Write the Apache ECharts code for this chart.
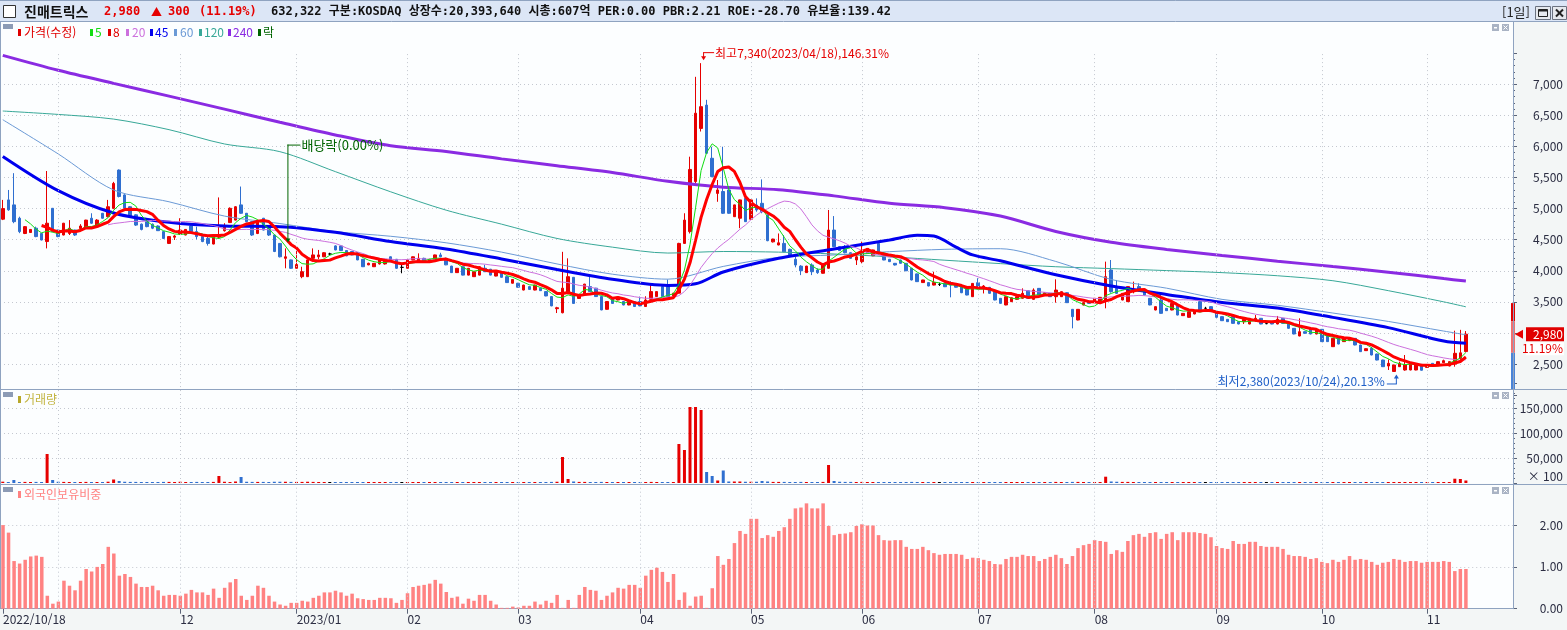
<!DOCTYPE html>
<html lang="ko">
<head>
<meta charset="utf-8">
<title>진매트릭스</title>
<script src="https://cdn.jsdelivr.net/npm/echarts@6.0.0/dist/echarts.min.js"></script>
<style>
  html, body { margin: 0; padding: 0; background: #f3f6f6; }
  #main { width: 1567px; height: 630px; }
</style>
</head>
<body>
<div id="main"></div>
<script>
// 거래일 (KRX 휴장일 제외)
var holidays = ['2022-12-30','2023-01-23','2023-01-24','2023-03-01','2023-05-01','2023-05-05',
  '2023-05-29','2023-06-06','2023-08-15','2023-09-28','2023-09-29','2023-10-02','2023-10-03','2023-10-09'];

// 시가 / 종가 / 저가 / 고가
var opens = [4830,5140,5060,4845,4600,4615,4685,4600,4470,5005, 4655,4575,4600,4655,4680,4685,4845,4710,4925,4870,
  5005,5620,5220,5030,4900,4750,4790,4750,4720,4630, 4440,4540,4590,4575,4720,4630,4550,4520,4430,4540,
  4645,4775,4815,5060,4925,4790,4600,4845,4710,4575, 4440,4200,4175,4040,3905,3905,4200,4225,4225,4270,
  4400,4400,4325,4310,4290,4185,4095,4065,4110,4110, 4225,4185,4055,4040,4175,4145,4200,4150,4175,4255,
  4200,4075,3970,4065,3930,3905,3930,4040,4025,3915, 3970,3905,3800,3800,3690,3745,3690,3720,3665,3585,
  3390,3325,3635,3895,3555,3625,3745,3720,3585,3380, 3555,3530,3505,3450,3505,3505,3425,3540,3585,3745,
  3745,3595,3640,4440,4630,5435,6290,6665,5810,5245, 5275,5300,4870,4845,5165,4830,5058,5085,4897,4465,
  4415,4440,4345,4185,4075,3970,4093,4012,3960,4040, 4655,4388,4360,4290,4173,4147,4280,4240,4440,4270,
  4185,4120,4173,4120,4040,3950,3810,3810,3770,3780, 3797,3810,3770,3743,3717,3583,3808,3717,3733,3664,
  3557,3450,3503,3540,3557,3680,3540,3717,3610,3637, 3583,3583,3647,3380,3208,3449,3503,3487,3487,3530,
  4013,3718,3530,3503,3664,3745,3701,3557,3369,3530, 3396,3369,3433,3278,3251,3305,3503,3396,3423,3353,
  3262,3219,3262,3181,3181,3144,3197,3235,3150,3165, 3144,3235,3154,3074,2951,3020,3074,2983,3058,2967,
  2779,2929,2860,2876,2913,2806,2715,2752,2661,2564, 2468,2380,2457,2404,2404,2404,2495,2446,2511,2484,
  2521,2468,2500,2590,2700];
var closes = [5000,4980,4790,4630,4710,4665,4550,4495,4765,4630, 4550,4765,4685,4575,4720,4815,4765,4815,4845,5030,
  5405,5195,5005,4870,4735,4665,4710,4685,4645,4520, 4550,4560,4655,4665,4630,4550,4470,4440,4575,4560,
  4700,5005,5030,4925,4790,4575,4790,4655,4575,4310, 4225,4225,4040,4100,3985,4175,4255,4255,4290,4270,
  4335,4325,4240,4255,4175,4065,4120,4120,4175,4185, 4145,4040,4055,4175,4225,4200,4145,4185,4255,4225,
  4095,3970,4040,3930,4040,3985,4065,3985,3930,3985, 3895,3810,3860,3735,3770,3700,3770,3680,3595,3435,
  3405,3720,3905,3475,3610,3785,3665,3585,3370,3505, 3475,3575,3450,3520,3425,3435,3530,3665,3665,3585,
  3585,3640,4440,4815,5630,6535,6640,5890,5515,5300, 4925,4925,5060,5140,4790,5140,4978,4950,4484,4510,
  4450,4305,4255,4093,4000,4075,3985,3970,4093,4655, 4388,4325,4290,4200,4225,4307,4360,4335,4270,4173,
  4147,4093,4120,4000,3852,3825,3852,3755,3812,3780, 3743,3770,3735,3647,3610,3797,3717,3755,3637,3530,
  3476,3583,3567,3583,3637,3557,3690,3610,3647,3583, 3690,3664,3487,3262,3380,3487,3476,3557,3573,3905,
  3664,3637,3637,3745,3691,3691,3610,3450,3423,3315, 3358,3476,3288,3315,3342,3358,3369,3396,3342,3251,
  3197,3181,3154,3144,3219,3235,3235,3144,3150,3144, 3219,3154,3074,2983,3020,2994,2983,3047,2860,2860,
  2913,2822,2913,2913,2806,2699,2747,2645,2564,2457, 2511,2484,2511,2484,2500,2484,2400,2468,2468,2538,
  2554,2538,2672,2680,2980];
var lows = [4815,4965,4765,4605,4590,4610,4540,4490,4360,4620, 4540,4570,4575,4560,4655,4680,4755,4700,4840,4860,
  4990,5180,4990,4860,4720,4650,4700,4670,4640,4510, 4430,4495,4575,4570,4620,4505,4460,4405,4425,4520,
  4630,4770,4810,4915,4780,4560,4590,4650,4560,4300, 4215,4040,4030,4035,3880,3900,4185,4185,4220,4250,
  4330,4320,4235,4250,4170,4060,4090,4060,4100,4100, 4140,4030,3960,4035,4170,4140,4140,4145,4170,4220,
  4090,3965,3965,3925,3925,3900,3925,3980,3925,3910, 3890,3805,3795,3730,3685,3695,3685,3675,3590,3430,
  3320,3315,3625,3470,3550,3620,3660,3580,3365,3375, 3470,3525,3445,3445,3420,3430,3420,3535,3580,3580,
  3580,3590,3635,4435,4600,5405,6240,5880,5505,5110, 4915,4915,4865,4685,4785,4820,4950,4925,4475,4455,
  4410,4300,4220,4055,3930,3965,3930,3950,3955,4035, 4380,4320,4280,4195,4093,4120,4275,4235,4265,4170,
  4140,4085,4115,3995,3845,3820,3805,3750,3765,3755, 3738,3573,3730,3640,3605,3578,3710,3635,3630,3525,
  3470,3445,3498,3530,3552,3550,3535,3605,3605,3578, 3487,3578,3482,3074,3203,3444,3471,3482,3482,3396,
  3648,3626,3525,3498,3637,3664,3605,3445,3364,3310, 3353,3364,3283,3273,3246,3300,3364,3380,3337,3246,
  3192,3176,3149,3139,3144,3139,3181,3139,3140,3139, 3139,3149,3069,2978,2946,2989,2978,2978,2855,2855,
  2774,2817,2855,2870,2801,2694,2710,2640,2559,2452, 2404,2380,2452,2393,2399,2399,2395,2441,2463,2479,
  2516,2463,2457,2560,2690];
var highs = [5140,5300,5570,4870,4720,4670,4710,4610,5605,5010, 4660,4770,4815,4660,4750,4820,4925,4830,4930,5140,
  5430,5630,5230,5040,4910,4760,4800,4760,4730,4640, 4555,4575,4845,4670,4730,4710,4555,4550,4580,5180,
  4765,5020,5040,5355,4930,4800,4800,4850,4720,4580, 4445,4360,4180,4360,4065,4180,4360,4335,4300,4290,
  4410,4410,4330,4315,4295,4190,4130,4125,4185,4190, 4230,4190,4120,4180,4230,4280,4210,4190,4260,4290,
  4210,4080,4045,4070,4045,3990,4070,4095,4030,3990, 3975,3910,3865,3805,3775,3750,3775,3725,3670,3590,
  3420,4305,4200,3900,3615,3790,3915,3725,3590,3510, 3560,3580,3510,3525,3510,3585,3590,3770,3670,3750,
  3860,3645,4450,4925,5835,7120,7340,6750,5995,5460, 5995,5310,5065,5145,5170,5150,5165,5470,4905,4515,
  4600,4575,4355,4225,4090,4080,4120,4040,4100,4978, 4880,4395,4415,4295,4255,4468,4365,4340,4465,4275,
  4190,4125,4178,4125,4045,3955,3855,3815,3985,3810, 3800,3830,3775,3750,3720,3800,3880,3770,3740,3670,
  3562,3588,3572,3590,3717,3685,3717,3722,3650,3640, 3862,3668,3652,3385,3385,3492,3508,3562,3578,4147,
  4173,3852,3642,3750,3825,3798,3706,3562,3428,3637, 3401,3481,3438,3320,3347,3362,3557,3420,3428,3358,
  3267,3224,3267,3186,3251,3240,3288,3240,3165,3170, 3273,3240,3159,3079,3235,3025,3079,3052,3063,2972,
  2918,2934,2918,2918,2918,2811,2752,2774,2666,2569, 2575,2490,2538,2645,2505,2489,2500,2473,2516,2543,
  2570,2543,3036,3050,3030];

// 거래량 (x100)
var volumes = [2600,2000,6000,2000,2200,2000,2200,2000,58000,6000, 2500,2200,2000,2000,1800,2200,2000,2000,1800,2600,
  7000,4000,2500,2200,2200,2000,1800,1800,2000,2200, 2200,1800,2500,2000,2000,2200,2000,2000,2200,14000,
  2500,2000,3000,12000,2500,2200,2200,2200,2000,2500, 2500,2500,2200,2200,2200,2500,2200,2000,2000,1800,
  2000,1800,1800,1800,2000,2000,1800,1800,2000,2000, 1800,2000,1800,2000,1800,2000,1800,1800,2000,1800,
  2000,2000,1800,2000,2000,1800,2000,1800,1800,2000, 1800,2000,1800,2000,1800,2000,1800,1800,2000,2200,
  2500,52000,8000,3000,2200,2200,2000,2000,2200,2000, 2000,1800,1800,1800,2000,2000,2000,2200,2000,2000,
  2000,2000,78000,66000,152000,152000,146000,22000,14000,5000, 25000,3000,3000,3000,2500,2500,2500,4000,3000,2200,
  2200,2200,2000,2000,2200,2000,2000,2000,2200,36000, 4000,2500,2200,2200,2000,2200,2000,2000,2000,2000,
  1800,1800,1800,2000,2200,2000,1800,1800,2000,1800, 1800,2000,1800,1800,1800,2000,1800,1800,1800,2000,
  1800,2000,1800,1800,2000,1800,2000,1800,1800,1800, 2200,2000,2000,2200,2200,2000,1800,1800,2000,12600,
  3000,2500,2200,2200,2000,2000,2000,2000,1800,2000, 1800,1800,2000,1800,1800,1800,2000,1800,1800,2000,
  1800,1800,1800,1800,1800,1800,1800,1800,1800,1800, 1800,1800,1800,2000,2000,1800,1800,1800,2000,1800,
  2000,1800,1800,1800,1800,2000,1800,2000,2000,2000, 2000,2000,1800,2000,1800,1800,1800,1800,1800,1800,
  1800,1800,8600,8000,5000];

// 외국인보유비중 (%)
var foreignRatio = [2.0,1.82,1.14,1.08,1.17,1.25,1.27,1.24,0.31,0.12, 0.17,0.67,0.55,0.44,0.67,0.95,0.89,1.0,1.07,1.48,
  1.32,0.79,0.83,0.76,0.6,0.52,0.52,0.55,0.44,0.31, 0.33,0.33,0.31,0.36,0.45,0.39,0.39,0.33,0.48,0.26,
  0.5,0.63,0.71,0.31,0.21,0.31,0.55,0.5,0.31,0.17, 0.1,0.07,0.14,0.14,0.19,0.17,0.26,0.31,0.39,0.39,
  0.43,0.39,0.31,0.36,0.25,0.23,0.21,0.21,0.26,0.26, 0.25,0.14,0.21,0.37,0.52,0.55,0.57,0.6,0.69,0.6,
  0.4,0.26,0.29,0.12,0.24,0.19,0.33,0.33,0.19,0.1, 0.02,0.02,0.05,0.03,0.07,0.07,0.17,0.1,0.19,0.14,
  0.33,0.02,0.21,0.02,0.33,0.52,0.45,0.43,0.21,0.31, 0.39,0.5,0.48,0.57,0.57,0.5,0.79,0.93,0.98,0.88,
  0.64,0.83,0.21,0.39,0.07,0.29,0.31,0.02,0.49,1.26, 1.05,1.19,1.57,1.86,1.79,2.15,2.15,1.69,1.76,1.72,
  1.86,1.95,2.15,2.40,2.42,2.52,2.40,2.40,2.52,1.98, 1.76,1.79,1.80,1.83,1.98,2.02,1.99,1.99,1.76,1.64,
  1.63,1.64,1.64,1.48,1.43,1.43,1.48,1.40,1.33,1.29, 1.31,1.31,1.31,1.29,1.19,1.22,1.21,1.17,1.14,1.07,
  1.06,1.19,1.24,1.24,1.29,1.26,1.26,1.14,1.19,1.24, 1.29,1.21,1.07,1.26,1.45,1.52,1.55,1.64,1.62,1.60,
  1.31,1.40,1.36,1.62,1.76,1.79,1.72,1.81,1.83,1.67, 1.79,1.83,1.64,1.83,1.83,1.83,1.81,1.79,1.71,1.50,
  1.45,1.43,1.62,1.55,1.55,1.60,1.60,1.50,1.48,1.48, 1.48,1.43,1.29,1.26,1.26,1.24,1.19,1.21,1.12,1.09,
  1.17,1.12,1.17,1.26,1.17,1.19,1.17,1.12,1.05,1.10, 1.12,1.19,1.17,1.12,1.14,1.14,1.10,1.12,1.12,1.12,
  1.14,1.12,0.90,0.95,0.95];

// 장기 이동평균 (화면에서 읽은 값)
var maIdx = [0,10,20,30,40,50,60,70,80,90,100,110,120,130,140,150,160,170,180,190,200,210,220,230,240,250,260,264];
var ma60  = [6430,5880,5300,5110,4880,4760,4630,4555,4450,4300,4110,3945,3865,4070,4216,4254,4307,4345,4355,4150,3860,3720,3540,3445,3320,3185,3030,2970];
var ma120 = [6570,6515,6440,6270,6040,5916,5595,5270,4975,4750,4520,4380,4285,4310,4300,4270,4225,4170,4115,4065,4035,4003,3970,3920,3840,3680,3500,3420];
var ma240 = [7465,7225,7015,6810,6600,6390,6185,6010,5920,5800,5690,5580,5440,5345,5305,5205,5085,5015,4880,4632,4458,4343,4246,4155,4067,3978,3874,3834];
var ma45Idx = [0,10,20,30,40,50,60,70,80,90,100,110,120,125,130,140,150,160,165,168,172,175,180,190,200,210,220,230,240,250,260,264];
var ma45    = [5840,5290,4930,4780,4720,4710,4620,4470,4350,4190,4020,3865,3765,3790,3980,4200,4350,4495,4570,4560,4380,4255,4160,3935,3755,3620,3490,3400,3250,3085,2870,2833];

// 우측 가격대 표시 (상한가 / 구간 / 전일종가)
var rangeBand = [3480, 3190, 2680];

var xTickLabels = ['2022/10/18','','12','2023/01','02','03','04','05','06','07','08','09','10','11'];

var FONT = '"Noto Sans CJK KR", "Noto Sans", sans-serif';
var MONO = '"DejaVu Sans Mono", "Noto Sans CJK KR", monospace';
var RED = '#e60000', BLUE = '#2f6fd0', AXIS = '#8fa3c0', TXT = '#2b2d42';

// 날짜 목록
var dates = [];
(function () {
  var d = new Date(Date.UTC(2022, 9, 18)), end = Date.UTC(2023, 10, 10);
  while (d.getTime() <= end) {
    var s = d.toISOString().slice(0, 10), wd = d.getUTCDay();
    if (wd !== 0 && wd !== 6 && holidays.indexOf(s) < 0) dates.push(s);
    d.setUTCDate(d.getUTCDate() + 1);
  }
})();
var cats = dates.slice();
for (var k = 0; k < 8; k++) cats.push('pad' + k);

// 월 시작 위치
var monthStarts = [];
dates.forEach(function (s, i) {
  if (i === 0 || s.slice(0, 7) !== dates[i - 1].slice(0, 7)) monthStarts.push(i);
});
var labelAt = {};
monthStarts.forEach(function (idx, n) { labelAt[idx] = xTickLabels[n]; });
var gridIdx = monthStarts.slice(1);
function isLabel(i) { return !!labelAt[i]; }

function movingAvg(n) {
  return closes.map(function (c, i) {
    if (i < n - 1) return '-';
    var s = 0;
    for (var j = i - n + 1; j <= i; j++) s += closes[j];
    return +(s / n).toFixed(1);
  });
}
function pairs(idx, vals) { return idx.map(function (x, n) { return [x, vals[n]]; }); }

var candleData = closes.map(function (c, i) {
  var item = { value: [opens[i], c, lows[i], highs[i]] };
  if (opens[i] === c) item.itemStyle = { color: '#000', color0: '#000', borderColor: '#000', borderColor0: '#000' };
  return item;
});
var volData = volumes.map(function (v, i) {
  var col = closes[i] > opens[i] ? RED : (closes[i] < opens[i] ? BLUE : '#000');
  return { value: v, itemStyle: { color: col } };
});

function monthLines() {
  return {
    silent: true, symbol: ['none', 'none'], label: { show: false },
    lineStyle: { color: '#c4c8d0', type: [1, 3], width: 1 },
    data: gridIdx.map(function (i) { return { xAxis: i }; })
  };
}

function xAx(g, show) {
  return {
    type: 'category', gridIndex: g, data: cats, boundaryGap: true,
    axisLine: { show: show, lineStyle: { color: AXIS } },
    axisTick: { show: show, alignWithLabel: true, interval: isLabel, length: 5, lineStyle: { color: '#5b6478' } },
    axisLabel: {
      show: show, interval: isLabel, formatter: function (v, i) { return labelAt[i] || ''; },
      align: 'left', margin: 5, color: TXT, fontSize: 12, fontFamily: FONT
    },
    splitLine: { show: false }
  };
}
function yAx(g, min, max, step, fmt, minor) {
  return {
    type: 'value', gridIndex: g, position: 'right', min: min, max: max, interval: step,
    axisLine: { show: true, lineStyle: { color: AXIS } },
    axisTick: { show: true, length: 4, lineStyle: { color: '#5b6478' } },
    minorTick: { show: minor, splitNumber: 5, length: 2, lineStyle: { color: '#5b6478' } },
    axisLabel: { formatter: fmt, align: 'right', margin: 50, color: TXT, fontSize: 12, fontFamily: FONT },
    splitLine: { show: true, showMinLine: false, showMaxLine: false, lineStyle: { color: '#c4c8d0', type: [1, 3] } }
  };
}
function commas(v) { return v.toLocaleString('en-US'); }

var chart = echarts.init(document.getElementById('main'));

chart.setOption({
  animation: false,
  backgroundColor: '#f3f6f6',
  grid: [
    { left: 0, right: 54, top: 53.2, height: 341.9, show: true, backgroundColor: '#fcfeff', borderWidth: 0 },
    { left: 0, right: 54, top: 383, height: 100, show: true, backgroundColor: '#fcfeff', borderWidth: 0 },
    { left: 0, right: 54, top: 483.3, height: 125.4, show: true, backgroundColor: '#fcfeff', borderWidth: 0 }
  ],
  xAxis: [xAx(0, false), xAx(1, false), xAx(2, true)],
  yAxis: [
    yAx(0, 2000, 7500, 500, function (v) { return (v <= 2000 || v >= 7500) ? '' : commas(v); }, true),
    yAx(1, 0, 200000, 50000, function (v) { return (v <= 0 || v >= 200000) ? '' : commas(v); }, true),
    yAx(2, 0, 3, 1, function (v) { return v >= 3 ? '' : v.toFixed(2); }, false)
  ],
  series: [
    {
      name: '가격', type: 'candlestick', xAxisIndex: 0, yAxisIndex: 0, barWidth: 3,
      itemStyle: { color: RED, color0: BLUE, borderColor: RED, borderColor0: BLUE, borderWidth: 1 },
      data: candleData, markLine: monthLines()
    },
    { name: '240', type: 'line', data: pairs(maIdx, ma240), smooth: 0.3, showSymbol: false, lineStyle: { color: '#8a2be2', width: 3 } },
    { name: '120', type: 'line', data: pairs(maIdx, ma120), smooth: 0.3, showSymbol: false, lineStyle: { color: '#38a898', width: 1 } },
    { name: '60', type: 'line', data: pairs(maIdx, ma60), smooth: 0.3, showSymbol: false, lineStyle: { color: '#6b9ad6', width: 1 } },
    { name: '45', type: 'line', data: pairs(ma45Idx, ma45), smooth: 0.3, showSymbol: false, lineStyle: { color: '#0000ee', width: 3 } },
    { name: '20', type: 'line', data: movingAvg(20), showSymbol: false, lineStyle: { color: '#cc70dd', width: 1 } },
    { name: '5', type: 'line', data: movingAvg(5), showSymbol: false, lineStyle: { color: '#11dd11', width: 1 } },
    { name: '8', type: 'line', data: movingAvg(8), showSymbol: false, lineStyle: { color: '#ff0000', width: 3 } },
    {
      name: '거래량', type: 'bar', xAxisIndex: 1, yAxisIndex: 1, barWidth: 3, barMinHeight: 1,
      data: volData, markLine: monthLines()
    },
    {
      name: '외국인보유비중', type: 'bar', xAxisIndex: 2, yAxisIndex: 2, barWidth: 3.5,
      itemStyle: { color: '#ff8282' }, data: foreignRatio, markLine: monthLines()
    }
  ]
});

// ---- 부가 그래픽 (헤더, 범례, 주석) ----
function P(gi, i, v) { return chart.convertToPixel({ gridIndex: gi }, [i, v]); }
function txt(x, y, s, color, font, align) {
  return { type: 'text', x: x, y: y, z: 100, style: { text: s, fill: color, font: font || ('12px ' + FONT), textAlign: align || 'left', textVerticalAlign: 'middle' } };
}
function ln(x1, y1, x2, y2, color, w) {
  return { type: 'line', z: 100, shape: { x1: x1, y1: y1, x2: x2, y2: y2 }, style: { stroke: color, lineWidth: w || 1 } };
}
function rc(x, y, w, h, fill, stroke) {
  return { type: 'rect', z: 99, shape: { x: x, y: y, width: w, height: h }, style: { fill: fill, stroke: stroke || null, lineWidth: 1 } };
}

var g = [{ type: 'rect', z: -10, shape: { x: 0, y: 21, width: 1513, height: 33 }, style: { fill: '#fcfeff' } }];
// 헤더
g.push(rc(0, 0, 1567, 21, '#dce6f6'));
g.push(ln(0, 0.5, 1567, 0.5, AXIS), ln(0, 21.5, 1567, 21.5, AXIS));
g.push(rc(3.5, 5.5, 12, 12, '#ffffff', '#333'));
var HB = 'bold 12px ' + MONO;
g.push(txt(24, 12, '진매트릭스', '#111', 'bold 14px ' + FONT));
g.push(txt(104, 12, '2,980', RED, HB), txt(151, 12, '▲', RED, 'bold 11px ' + FONT),
       txt(168, 12, '300', RED, HB), txt(199, 12, '(11.19%)', RED, HB));
g.push(txt(271, 12, '632,322 구분:KOSDAQ 상장수:20,393,640 시총:607억 PER:0.00 PBR:2.21 ROE:-28.70 유보율:139.42', '#111', HB));
g.push(txt(1502, 12, '[1일]', '#222', '13px ' + FONT));
g.push(rc(1535.5, 6.5, 15, 13, '#e6e9ee', '#6b7280'), rc(1552.5, 6.5, 14, 13, '#e6e9ee', '#6b7280'));
g.push(rc(1538.5, 9.5, 9, 7, null, '#222'), rc(1538.5, 9.5, 9, 2, '#222'));
g.push(ln(1556, 9.5, 1563, 16.5, '#222', 2), ln(1563, 9.5, 1556, 16.5, '#222', 2));

// 패널 테두리
g.push(ln(0.5, 21, 0.5, 609, AXIS), ln(1513.5, 21, 1513.5, 609, AXIS));
g.push(ln(0, 389.5, 1567, 389.5, AXIS), ln(0, 484.5, 1567, 484.5, AXIS));

// 패널 아이콘
[24, 392, 487].forEach(function (y) {
  g.push(rc(3, y, 10, 5, '#8c9bb5'));
  g.push(rc(1492, y, 7, 7, '#a9b3c4'), rc(1494, y + 3, 3, 1.5, '#ffffff'));
  g.push(rc(1502, y, 7, 7, '#a9b3c4'), ln(1503.5, y + 1.5, 1507.5, y + 5.5, '#fff'), ln(1507.5, y + 1.5, 1503.5, y + 5.5, '#fff'));
});

// 범례
var legend = [[18, 24, '#e00000', '가격(수정)'], [90, 95, '#11dd11', '5'], [108, 113, '#e00000', '8'],
  [126, 132, '#cc70dd', '20'], [150, 155, '#0000ee', '45'], [174, 180, '#6b9ad6', '60'],
  [199, 204, '#38a898', '120'], [228, 233, '#8a2be2', '240'], [258, 263, '#006400', '락']];
legend.forEach(function (L) {
  g.push(rc(L[0], 29, 3, 7, L[2]));
  g.push(txt(L[1], 32.5, L[3], L[2], '12px ' + FONT));
});
g.push(rc(18, 396, 3, 7, '#b8a82a'), txt(24, 399.5, '거래량', '#c2b440', '12px ' + FONT));
g.push(rc(18, 491, 3, 7, '#ff8282'), txt(24, 494.5, '외국인보유비중', '#ff8282', '12px ' + FONT));

// 거래량 단위
g.push(txt(1563, 476, '× 100', TXT, '12px ' + FONT, 'right'));

// 최고가 주석
var hi = P(0, 126, 7340);
g.push(ln(hi[0] + 2, hi[1] - 10.5, hi[0] + 13, hi[1] - 10.5, RED), ln(hi[0] + 2.5, hi[1] - 10.5, hi[0] + 2.5, hi[1] - 6, RED));
g.push({ type: 'polygon', z: 100, shape: { points: [[hi[0], hi[1] - 7], [hi[0] + 5, hi[1] - 7], [hi[0] + 2.5, hi[1] - 3]] }, style: { fill: RED } });
g.push(txt(hi[0] + 14, hi[1] - 10, '최고7,340(2023/04/18),146.31%', RED, '12px ' + FONT));

// 배당락 주석
var ex = P(0, 51, highs[51]);
var exTop = P(0, 51, 6030)[1];
g.push(ln(ex[0] + 2.5, exTop, ex[0] + 2.5, ex[1] - 8, '#006400'), ln(ex[0] + 2, exTop + 0.5, ex[0] + 15, exTop + 0.5, '#006400'));
g.push({ type: 'polygon', z: 100, shape: { points: [[ex[0], ex[1] - 10], [ex[0] + 5, ex[1] - 10], [ex[0] + 2.5, ex[1] - 6]] }, style: { fill: '#006400' } });
g.push(txt(ex[0] + 16, exTop, '배당락(0.00%)', '#006400', '13px ' + FONT));

// 최저가 주석
var lo = P(0, 251, 2380);
g.push(ln(lo[0] - 7, lo[1] + 12.5, lo[0] + 3, lo[1] + 12.5, '#1e5fc8'), ln(lo[0] + 2.5, lo[1] + 12.5, lo[0] + 2.5, lo[1] + 6, '#1e5fc8'));
g.push({ type: 'polygon', z: 100, shape: { points: [[lo[0], lo[1] + 7], [lo[0] + 5, lo[1] + 7], [lo[0] + 2.5, lo[1] + 3]] }, style: { fill: '#1e5fc8' } });
g.push(txt(lo[0] - 9, lo[1] + 10, '최저2,380(2023/10/24),20.13%', '#1e5fc8', '12px ' + FONT, 'right'));

// 우측 현재가 라벨
var last = closes[closes.length - 1];
var yc = P(0, 264, last)[1];
var yA = P(0, 264, rangeBand[0])[1], yB = P(0, 264, rangeBand[1])[1], yC = P(0, 264, rangeBand[2])[1];
g.push(rc(1511, yA, 4, yB - yA, '#e00000'), rc(1511, yB, 4, yC - yB, '#f07070'), rc(1511, yC, 4, 389 - yC, '#4a84d8'));
g.push({ type: 'polygon', z: 100, shape: { points: [[1515, yc], [1523, yc - 4.5], [1523, yc + 4.5]] }, style: { fill: RED } });
g.push(rc(1526, yc - 7, 38, 14, '#e00000'), txt(1563, yc, commas(last), '#ffffff', '12px ' + FONT, 'right'));
g.push(rc(1526, yc + 8, 38, 13, '#ffffff'), txt(1563, yc + 14.5, '11.19%', RED, '12px ' + FONT, 'right'));

chart.setOption({ graphic: g });
</script>
</body>
</html>
